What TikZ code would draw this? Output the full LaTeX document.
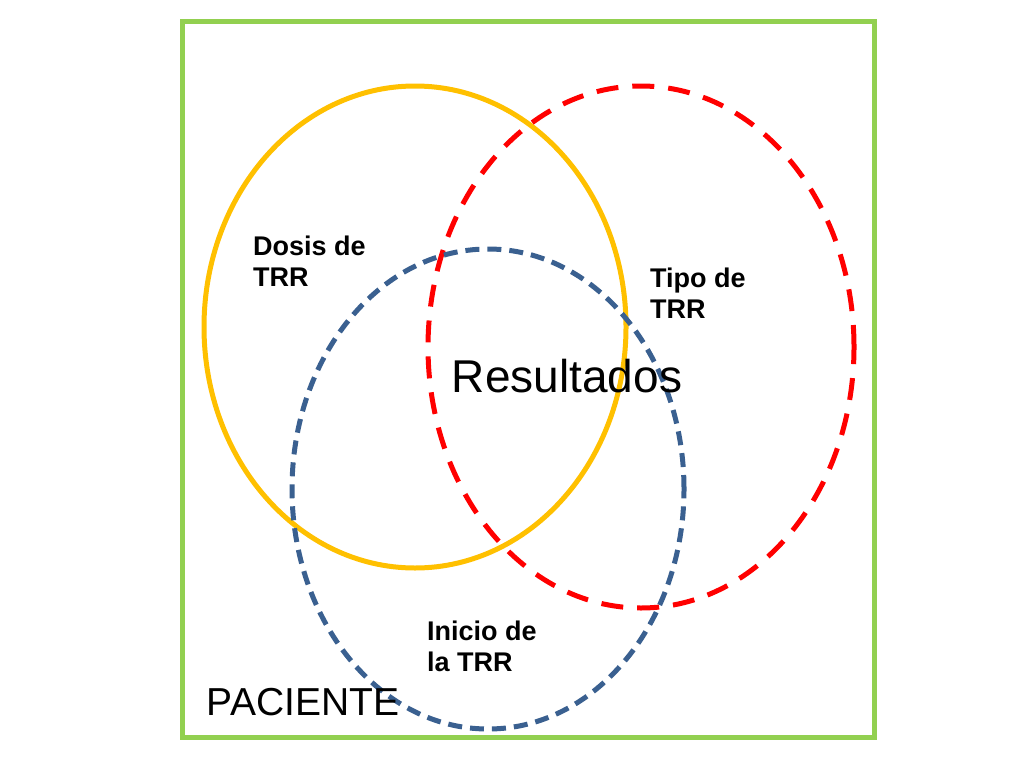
\documentclass[tikz,border=0pt]{standalone}
\usepackage{fontspec}
\usetikzlibrary{shapes.geometric}
\setmainfont{Liberation Sans}
\definecolor{gr}{HTML}{92D050}
\definecolor{yl}{HTML}{FFC000}
\definecolor{bl}{HTML}{3A6090}
\begin{document}
\begin{tikzpicture}[x=1pt,y=-1pt,
  lbl/.style={font=\fontsize{27}{31}\selectfont\bfseries,align=left,anchor=north west,inner sep=0}]
\useasboundingbox[fill=white] (0,0) rectangle (1024,768);
\node[draw=gr,line width=5pt,minimum width=692pt,minimum height=715pt,inner sep=0] (box) at (528,379.5) {};
\node[draw=yl,line width=5pt,ellipse,minimum width=422pt,minimum height=482pt,inner sep=0] (dosis) at (415,327) {};
\node[draw=red,line width=5pt,ellipse,dash pattern=on 22pt off 14pt,minimum width=426pt,minimum height=522pt,inner sep=0] (tipo) at (641,347) {};
\node[draw=bl,line width=5pt,ellipse,dash pattern=on 14pt off 8pt,minimum width=392pt,minimum height=480pt,inner sep=0] (inicio) at (488,489) {};
\node[lbl] (t1) at (253,236) {Dosis de\\TRR};
\node[lbl] (t2) at (650,268) {Tipo de\\TRR};
\node[lbl] (t3) at (427,621) {Inicio de\\la TRR};
\node[font=\fontsize{46}{50}\selectfont] (res) at (567,376) {Resultados};
\node[font=\fontsize{39}{44}\selectfont] (pac) at (303,702) {PACIENTE};
\end{tikzpicture}
\end{document}
